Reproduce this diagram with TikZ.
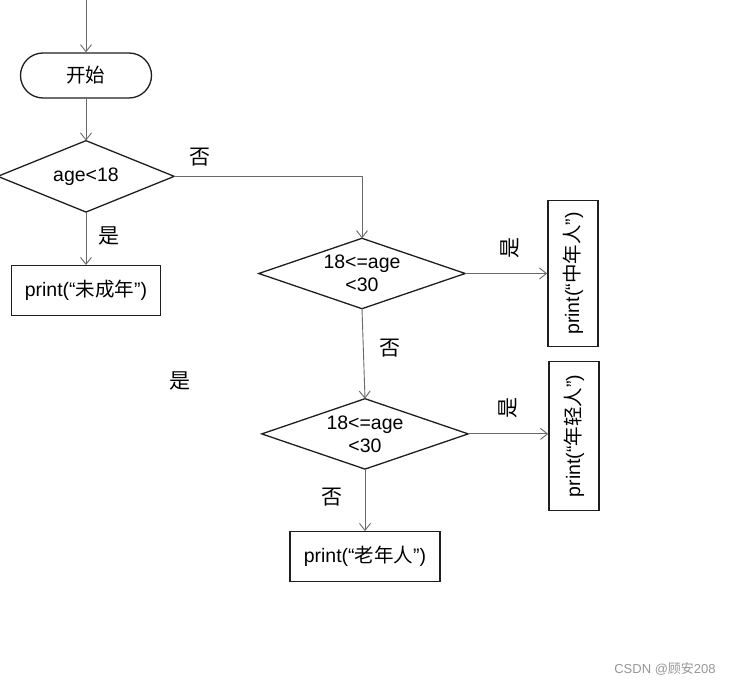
\documentclass[tikz,border=0pt]{standalone}
\usepackage{fontspec}
\setmainfont{Liberation Sans}
\newfontfamily\cjk{Noto Sans CJK SC}
\usetikzlibrary{
	positioning,
	arrows.meta
}
\definecolor{FlowLine}{RGB}{105,105,105}
\definecolor{FlowEdge}{RGB}{30,30,30}
\definecolor{MarkGray}{RGB}{150,150,150}

\begin{document}
\begin{tikzpicture}[
	x=1pt,y=-1pt,
	font=\fontsize{19.5}{23}\selectfont,
	flowbox/.style={draw=FlowEdge,line width=1.3pt,inner sep=0pt},
	flowtest/.style={inner sep=0pt,align=center,minimum width=206pt,minimum height=70pt},
	flowlabel/.style={font=\cjk\fontsize{21}{23}\selectfont},
	flowarrow/.style={FlowLine,line width=0.9pt,-{Straight Barb[length=7pt,width=11pt]}}
	]
	
	\useasboundingbox (0,0) rectangle (737,687);
	
	\coordinate (T) at (86,0);
	
	\node[
	flowbox,
	rounded corners=22.5pt,
	minimum width=131pt,
	minimum height=45pt
	]
	(S) at (86,75.5)
	{\cjk 开始};
	
	\node[
	flowtest,
	minimum width=176pt,
	minimum height=71pt,
	below=42pt of S
	]
	(Q1)
	{age<18};
	
	\node[
	flowbox,
	minimum width=149pt,
	minimum height=50pt,
	below=53pt of Q1
	]
	(P1)
	{print(“{\cjk 未成年}”)};
	
	\node[
	flowtest
	]
	(Q2) at (362,273.5)
	{18<=age\\<30};
	
	\node[
	flowbox,
	minimum width=50pt,
	minimum height=146pt,
	right=82pt of Q2
	]
	(P2)
	{\rotatebox{90}{print(“{\cjk 中年人}”)}};
	
	\node[
	flowtest,
	below=90pt of Q2,
	xshift=3pt
	]
	(Q3)
	{18<=age\\<30};
	
	\node[
	flowbox,
	minimum width=50pt,
	minimum height=149pt,
	right=80pt of Q3,
	yshift=-2pt
	]
	(P3)
	{\rotatebox{90}{print(“{\cjk 年轻人}”)}};
	
	\node[
	flowbox,
	minimum width=150pt,
	minimum height=50pt,
	below=62pt of Q3
	]
	(P4)
	{print(“{\cjk 老年人}”)};
	
	% decision outlines
	\foreach \q in {Q1,Q2,Q3}
	\draw[FlowEdge,line width=1.3pt,line join=miter]
	(\q.north) -- (\q.east) -- (\q.south) -- (\q.west) -- cycle;
	
	% branch labels
	\node[flowlabel] (N1) at (200,157) {否};
	\node[flowlabel] (Y1) at (109,236) {是};
	\node[flowlabel,rotate=90] (Y2) at (510,248) {是};
	\node[flowlabel] (N2) at (390,348) {否};
	\node[flowlabel,rotate=90] (Y3) at (508,408) {是};
	\node[flowlabel] (N3) at (332,497) {否};
	\node[flowlabel] (Y4) at (180,381) {是};
	
	\node[MarkGray,font=\fontsize{13}{15}\selectfont] (W) at (665,669) {CSDN @{\cjk 顾安}208};
	
	\draw[flowarrow] (T) -- (S);
	\draw[flowarrow] (S) -- (Q1);
	\draw[flowarrow] (Q1) -- (P1);
	\draw[flowarrow] (Q1.east) -| (Q2.north);
	\draw[flowarrow] (Q2.east) -- (P2.west |- Q2.east);
	\draw[flowarrow] (Q2.south) -- (Q3.north);
	\draw[flowarrow] (Q3.east) -- (P3.west |- Q3.east);
	\draw[flowarrow] (Q3.south) -- (P4.north -| Q3.south);
	
\end{tikzpicture}
\end{document}
